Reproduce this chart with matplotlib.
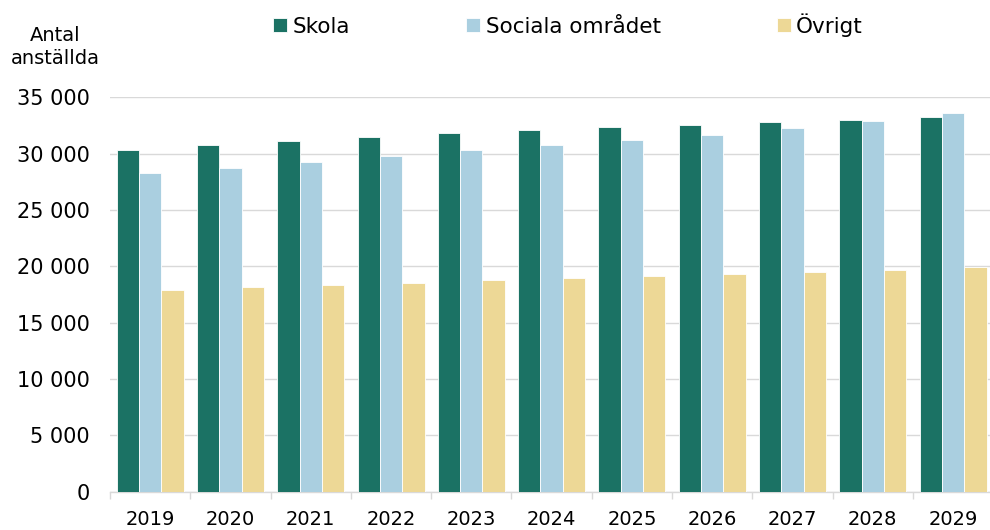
import matplotlib
matplotlib.use("Agg")
import matplotlib.pyplot as plt
import matplotlib.ticker as mticker
import numpy as np

years = ["2019", "2020", "2021", "2022", "2023", "2024", "2025", "2026", "2027", "2028", "2029"]
skola = [30300, 30770, 31150, 31470, 31790, 32090, 32320, 32560, 32790, 33000, 33240]
sociala = [28240, 28740, 29270, 29800, 30290, 30730, 31200, 31650, 32270, 32910, 33590]
ovrigt = [17930, 18130, 18370, 18540, 18750, 18930, 19140, 19340, 19510, 19690, 19900]

series_names = ["Skola", "Sociala området", "Övrigt"]
series_colors = ["#1B7264", "#AACFE0", "#EDD896"]

plt.rcParams["font.family"] = ["DejaVu Sans"]

fig = plt.figure(figsize=(9.9, 5.3), dpi=100)
ax = fig.add_axes([110 / 990, 1 - 491.7 / 530, 880 / 990, (491.7 - 97.3) / 530])

x = np.arange(len(years))
w = 0.278
for k, (vals, name, col) in enumerate(zip([skola, sociala, ovrigt], series_names, series_colors)):
    ax.bar(x + (k - 1) * w, vals, width=w, color=col, edgecolor="white",
           linewidth=0.6, label=name, zorder=3)

ax.set_xlim(-0.5, 10.46)
ax.set_ylim(0, 35000)
ax.yaxis.set_major_locator(mticker.MultipleLocator(5000))
ax.yaxis.set_major_formatter(mticker.FuncFormatter(lambda v, p: f"{int(v):,}".replace(",", " ")))
ax.grid(axis="y", color="#D9D9D9", linewidth=1, zorder=0)

ax.set_xticks(x)
ax.set_xticklabels(years)
ax.set_xticks(np.arange(len(years)) - 0.5, minor=True)
ax.tick_params(axis="x", which="major", length=0, pad=13, labelsize=14)
ax.tick_params(axis="x", which="minor", length=5, color="#D9D9D9", width=1)
ax.tick_params(axis="y", length=0, pad=14.4, labelsize=15)

for s in ["top", "right", "left"]:
    ax.spines[s].set_visible(False)
ax.spines["bottom"].set_color("#D9D9D9")
ax.spines["bottom"].set_linewidth(1)

fig.text(55 / 990, 1 - 47 / 530, "Antal\nanställda", ha="center", va="center",
         fontsize=14, linespacing=1.3)

fig.legend(loc="center left", bbox_to_anchor=(273 / 990, 1 - 25 / 530), ncol=3,
           frameon=False, fontsize=15.5, handlelength=0.65, handleheight=0.65,
           handletextpad=0.25, columnspacing=5.4, borderaxespad=0, borderpad=0)

fig.savefig("out.png", dpi=100)
